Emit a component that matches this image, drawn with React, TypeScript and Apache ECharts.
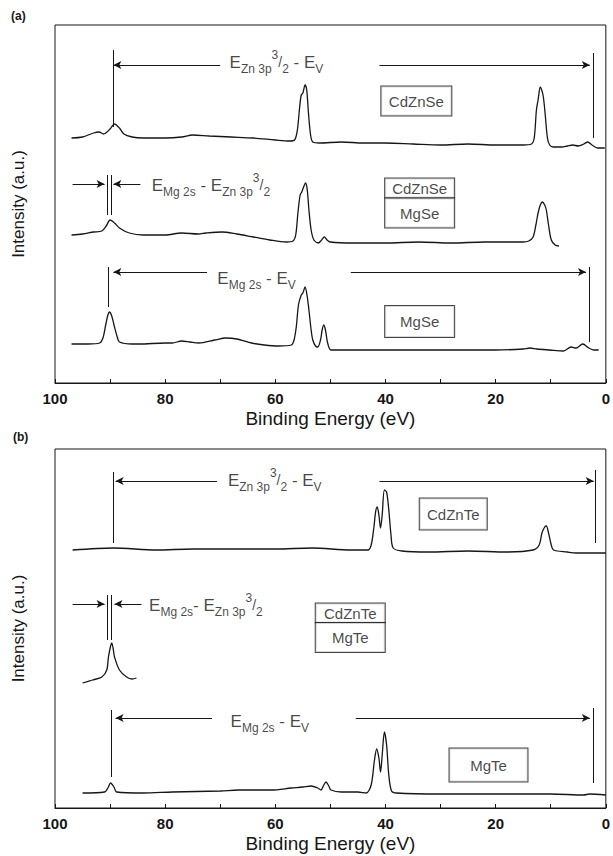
import React, { useEffect, useRef } from "react";
import * as echarts from "echarts";

const FONT = '"Liberation Sans", Arial, Helvetica, sans-serif';
const INK = "#161616";

const panelLetters = ["(a)", "(b)"];
const xTitle = "Binding Energy (eV)";
const yTitle = "Intensity (a.u.)";
const intensityMax = [358, 359];

// ---------- Panel (a) spectra: [binding energy (eV), intensity (a.u.)] ----------
const cdznseA: number[][] = [
  [97, 245], [95, 246], [93, 250], [92, 251], [91.2, 249], [90, 254], [89.2, 259], [88.3, 255],
  [87.5, 249], [86, 246], [84, 245], [80, 245], [77, 246], [75, 248], [72, 247], [68, 246],
  [64, 245], [60, 243], [57.5, 242], [56.5, 243], [56, 253], [55.6, 275], [55.3, 288], [55, 290],
  [54.6, 298], [54.3, 293], [54, 271], [53.6, 248], [53.2, 241], [52, 240], [48, 241], [44, 240],
  [40, 240], [35, 239], [30, 238], [25, 239], [20, 238], [15, 238], [13.5, 239], [13, 245],
  [12.6, 273], [12.3, 283], [11.9, 296], [11.4, 288], [11, 268], [10.6, 245], [10.2, 238],
  [9.5, 236], [8, 236], [7, 237], [6, 238], [5, 237], [4, 239], [3.3, 241], [2.5, 238],
  [1.5, 235], [0.2, 235],
];

const cdznseMgseA: number[][] = [
  [97, 148], [95, 149], [93, 151], [91.5, 152], [90.7, 157], [90, 163], [89.2, 160], [88.3, 155],
  [86.5, 150], [84, 148], [80, 148], [77, 150], [74, 149], [72.6, 150], [69.7, 151], [67, 149],
  [64, 146], [61, 143], [58, 141], [56.8, 142], [56.3, 148], [55.9, 170], [55.5, 188], [55.2, 191],
  [54.8, 197], [54.5, 200], [54.2, 193], [53.9, 173], [53.5, 153], [53, 143], [52.2, 140],
  [51.6, 143], [51.1, 146], [50.6, 143], [50, 141], [46, 140], [40, 140], [34, 141], [28, 140],
  [22, 141], [15, 141], [14, 142], [13.2, 146], [12.7, 158], [12.3, 170], [11.9, 178], [11.5, 181],
  [11.1, 178], [10.8, 173], [10.4, 158], [9.9, 143], [9.2, 138], [8.5, 137],
];

const mgseA: number[][] = [
  [97, 39], [94, 39], [91.9, 40], [91.3, 45], [90.8, 58], [90.4, 68], [90.1, 71], [89.7, 67],
  [89.2, 56], [88.7, 46], [88.3, 41], [86, 39], [84.7, 39], [80, 40], [78.7, 40], [77, 42],
  [75.5, 41], [73.9, 40], [71, 43], [69, 45], [67, 44], [64.3, 40], [62, 38], [59.5, 37],
  [57.1, 38], [56.6, 43], [56.2, 56], [55.8, 78], [55.3, 88], [55, 90], [54.6, 96], [54.2, 86],
  [53.9, 73], [53.5, 53], [53.2, 43], [52.7, 37], [52.3, 36], [51.8, 43], [51.5, 53], [51.2, 58],
  [50.9, 53], [50.5, 40], [49.9, 33], [45, 33], [40, 33], [30, 33], [20, 33], [15, 34],
  [13.8, 35], [12.5, 34], [10.2, 33], [7.7, 32], [6.3, 36], [5.4, 35], [4.2, 39], [3.1, 35],
  [2.2, 33], [1.3, 33],
];

// ---------- Panel (b) spectra ----------
const cdznteB: number[][] = [
  [96.8, 258], [89.4, 260], [81.6, 258], [75, 259], [67.5, 259], [60, 259], [53.3, 260],
  [46.3, 258], [43.2, 258], [42.6, 263], [42.1, 281], [41.8, 296], [41.5, 301], [41.2, 293],
  [40.9, 280], [40.6, 293], [40.2, 318], [39.8, 316], [39.4, 298], [39, 273], [38.6, 260],
  [37, 257], [32.2, 256], [25, 257], [18, 256], [13.2, 258], [12.1, 263], [11.6, 275],
  [11.1, 281], [10.8, 282], [10.4, 275], [9.9, 263], [9.5, 258], [7, 256], [5.4, 255],
  [2, 255], [0, 255],
];

const cdznteMgteB: number[][] = [
  [95, 125], [93.2, 128], [91.5, 131], [90.6, 138], [90.3, 151], [89.9, 162], [89.7, 165],
  [89.4, 158], [89.2, 151], [88.3, 138], [87, 131], [86, 129], [85.2, 130],
];

const mgteB: number[][] = [
  [95, 15], [91, 16], [90.4, 20], [89.9, 25], [89.3, 21], [88.8, 16], [84, 15], [78.7, 16],
  [70, 17], [66.7, 18], [60.7, 18], [57.1, 20], [55, 21], [53.5, 22], [52.3, 20], [51.7, 18],
  [51.2, 23], [50.8, 26], [50.3, 22], [49.9, 18], [48, 16], [45, 16], [43.5, 15], [42.6, 23],
  [42, 48], [41.6, 59], [41.2, 50], [40.9, 36], [40.6, 53], [40.2, 76], [39.8, 63], [39.4, 33],
  [38.9, 17], [38, 15], [30, 14], [20, 14], [10, 14], [4, 13], [3, 14], [0, 13],
];

// ---------- Annotations (data coordinates: eV, a.u.) ----------
// arrows: [fromX, fromY, toX, toY] (arrow head at "to")
const arrowsA: number[][] = [
  [70, 318, 89.4, 318], [41.1, 318, 2.9, 318],
  [96.8, 199, 91.0, 199], [84.5, 199, 89.4, 199],
  [72.4, 111, 89.4, 111], [46.3, 111, 3.6, 111],
];
// guides: [x, yFrom, yTo]
const guidesA: number[][] = [
  [89.4, 333, 256], [2.2, 330, 245],
  [90.6, 208, 168], [89.7, 208, 168],
  [90.3, 116, 76], [3.1, 116, 41],
];
const arrowsB: number[][] = [
  [70.6, 327, 89.0, 327], [41.1, 327, 2.2, 327],
  [96.8, 204, 91.0, 204], [84.3, 204, 89.2, 204],
  [71.5, 90, 89.0, 90], [45.4, 90, 2.9, 90],
];
const guidesB: number[][] = [
  [89.5, 336, 265], [2.0, 338, 265],
  [90.5, 213, 168], [89.7, 213, 168],
  [89.7, 98, 31], [2.3, 100, 25],
];

const energyLabelsA = [
  "{e|E}{sb|Zn 3p}{sp|3}{sl|/}{sb|2}{e| - E}{sb|V}",
  "{e|E}{sb|Mg 2s}{e| - E}{sb|Zn 3p}{sp|3}{sl|/}{sb|2}",
  "{e|E}{sb|Mg 2s}{e| - E}{sb|V}",
];
const energyLabelPosA: number[][] = [[59.8, 321], [71.7, 198], [63.4, 105]];
const energyLabelsB = [
  "{e|E}{sb|Zn 3p}{sp|3}{sl|/}{sb|2}{e| - E}{sb|V}",
  "{e|E}{sb|Mg 2s}{e|- E}{sb|Zn 3p}{sp|3}{sl|/}{sb|2}",
  "{e|E}{sb|Mg 2s}{e| - E}{sb|V}",
];
const energyLabelPosB: number[][] = [[60.1, 328], [72.6, 203], [61, 87]];

// sample boxes: text, [x, y], [inner width, vertical padding]
const sampleBoxesA = ["CdZnSe", "CdZnSe", "MgSe", "MgSe"];
const sampleBoxPosA: number[][] = [[34.4, 282], [33.8, 195], [33.8, 170], [33.8, 61.5]];
const sampleBoxSizeA: number[][] = [[58, 6], [57, 1], [57, 6], [57, 7]];
const sampleBoxesB = ["CdZnTe", "CdZnTe", "MgTe", "MgTe"];
const sampleBoxPosB: number[][] = [[27.7, 294], [46.4, 195], [46.4, 170.5], [21.3, 43]];
const sampleBoxSizeB: number[][] = [[55, 7], [57, 1], [57, 6], [66, 8]];

const rich = {
  e: { fontSize: 17, lineHeight: 26, fontFamily: FONT, color: INK, verticalAlign: "middle" },
  sb: { fontSize: 12, lineHeight: 12, fontFamily: FONT, color: INK, verticalAlign: "bottom" },
  sp: { fontSize: 12, lineHeight: 12, fontFamily: FONT, color: INK, verticalAlign: "top" },
  sl: { fontSize: 14, lineHeight: 16, fontFamily: FONT, color: INK, verticalAlign: "middle" },
};

function curve(data: number[][], idx: number) {
  return {
    type: "line",
    xAxisIndex: idx,
    yAxisIndex: idx,
    data,
    showSymbol: false,
    symbol: "none",
    smooth: 0.3,
    lineStyle: { color: INK, width: 1.3 },
    silent: true,
    z: 3,
  };
}

function annotations(
  idx: number,
  arrows: number[][],
  guides: number[][],
  labels: string[],
  labelPos: number[][],
  boxes: string[],
  boxPos: number[][],
  boxSize: number[][]
) {
  const lineData: any[] = [];
  arrows.forEach(([x1, y1, x2, y2]) =>
    lineData.push([
      { coord: [x1, y1], symbol: "none" },
      { coord: [x2, y2], symbol: "arrow", symbolSize: [6, 8] },
    ])
  );
  guides.forEach(([x, y1, y2]) =>
    lineData.push([
      { coord: [x, y1], symbol: "none" },
      { coord: [x, y2], symbol: "none" },
    ])
  );
  const pts: any[] = [];
  labels.forEach((t, i) =>
    pts.push({
      value: labelPos[i],
      label: { show: true, position: "inside", formatter: t, rich },
    })
  );
  boxes.forEach((t, i) =>
    pts.push({
      value: boxPos[i],
      label: {
        show: true,
        position: "inside",
        formatter: t,
        fontSize: 15,
        lineHeight: 17,
        fontFamily: FONT,
        color: INK,
        width: boxSize[i][0],
        align: "center",
        padding: [boxSize[i][1], 6, boxSize[i][1], 6],
        backgroundColor: "#fff",
        borderColor: INK,
        borderWidth: 1,
      },
    })
  );
  return {
    type: "scatter",
    xAxisIndex: idx,
    yAxisIndex: idx,
    data: pts,
    symbolSize: 1,
    itemStyle: { color: "transparent" },
    silent: true,
    z: 5,
    markLine: {
      silent: true,
      animation: false,
      symbol: ["none", "none"],
      symbolSize: 7,
      label: { show: false },
      emphasis: { disabled: true },
      lineStyle: { color: INK, width: 1, type: "solid" },
      data: lineData,
    },
  };
}

function xAxisFor(idx: number) {
  return {
    type: "value",
    gridIndex: idx,
    inverse: true,
    min: 0,
    max: 100,
    interval: 10,
    axisLine: { show: true, lineStyle: { color: INK, width: 1 } },
    axisTick: { show: true, inside: true, length: 4, lineStyle: { color: INK } },
    axisLabel: {
      show: true,
      margin: 8,
      fontSize: 15,
      fontWeight: "bold",
      fontFamily: FONT,
      color: INK,
      showMinLabel: true,
      showMaxLabel: true,
      formatter: (v: number) => (v % 20 === 0 ? String(v) : ""),
    },
    splitLine: { show: false },
    name: xTitle,
    nameLocation: "middle",
    nameGap: 26,
    nameTextStyle: { fontSize: 19, fontFamily: FONT, color: INK },
  };
}

function yAxisFor(idx: number) {
  return {
    type: "value",
    gridIndex: idx,
    min: 0,
    max: intensityMax[idx],
    axisLine: { show: false },
    axisTick: { show: false },
    axisLabel: { show: false },
    splitLine: { show: false },
    name: yTitle,
    nameLocation: "middle",
    nameRotate: 90,
    nameGap: 28,
    nameTextStyle: { fontSize: 17, fontFamily: FONT, color: INK },
  };
}

export default function App() {
  const ref = useRef<HTMLDivElement>(null);
  useEffect(() => {
    document.body.style.margin = "0";
    if (!ref.current) return;
    const chart = echarts.init(ref.current, undefined, { renderer: "svg" });
    chart.setOption({
      animation: false,
      backgroundColor: "#fff",
      title: [
        { text: panelLetters[0], left: 6, top: 5, textStyle: { fontSize: 12, fontWeight: "bold", fontFamily: FONT, color: INK } },
        { text: panelLetters[1], left: 8, top: 426, textStyle: { fontSize: 12, fontWeight: "bold", fontFamily: FONT, color: INK } },
      ],
      grid: [
        { left: 55, width: 555, top: 25, height: 358, show: true, borderColor: INK, borderWidth: 1, backgroundColor: "transparent" },
        { left: 55, width: 555, top: 449, height: 359, show: true, borderColor: INK, borderWidth: 1, backgroundColor: "transparent" },
      ],
      xAxis: [xAxisFor(0), xAxisFor(1)],
      yAxis: [yAxisFor(0), yAxisFor(1)],
      series: [
        curve(cdznseA, 0),
        curve(cdznseMgseA, 0),
        curve(mgseA, 0),
        curve(cdznteB, 1),
        curve(cdznteMgteB, 1),
        curve(mgteB, 1),
        annotations(0, arrowsA, guidesA, energyLabelsA, energyLabelPosA, sampleBoxesA, sampleBoxPosA, sampleBoxSizeA),
        annotations(1, arrowsB, guidesB, energyLabelsB, energyLabelPosB, sampleBoxesB, sampleBoxPosB, sampleBoxSizeB),
      ],
    });
    return () => chart.dispose();
  }, []);
  return (
    <div
      ref={ref}
      style={{ position: "absolute", left: 0, top: 0, width: 613, height: 856, background: "#fff" }}
    />
  );
}
